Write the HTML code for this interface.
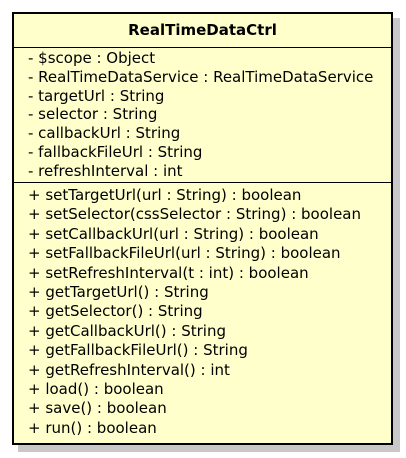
<!DOCTYPE html>
<html><head><style>
body{margin:0;width:406px;height:458px;background:#fff;position:relative;overflow:hidden;font-family:"DejaVu Sans","Liberation Sans",sans-serif;}
.sh{position:absolute;left:18px;top:18px;width:382px;height:434px;background:#c8c8c8;}
.box{position:absolute;left:12px;top:12px;width:377px;height:429px;background:#ffffcc;border:2.5px solid #000;}
.t{position:absolute;left:0;right:0;top:7px;text-align:center;font-weight:bold;font-size:15px;}
.sep{position:absolute;left:0;right:0;height:1px;background:#000;}
.l{position:absolute;left:14px;font-size:15px;white-space:nowrap;line-height:18.8px;}
</style></head><body>
<div class="sh"></div>
<div class="box">
<div class="t">RealTimeDataCtrl</div>
<div class="sep" style="top:33px"></div>
<div class="l" style="top:35px">- $scope : Object<br>- RealTimeDataService : RealTimeDataService<br>- targetUrl : String<br>- selector : String<br>- callbackUrl : String<br>- fallbackFileUrl : String<br>- refreshInterval : int</div>
<div class="sep" style="top:168px"></div>
<div class="l" style="top:172px;line-height:19.4px">+ setTargetUrl(url : String) : boolean<br>+ setSelector(cssSelector : String) : boolean<br>+ setCallbackUrl(url : String) : boolean<br>+ setFallbackFileUrl(url : String) : boolean<br>+ setRefreshInterval(t : int) : boolean<br>+ getTargetUrl() : String<br>+ getSelector() : String<br>+ getCallbackUrl() : String<br>+ getFallbackFileUrl() : String<br>+ getRefreshInterval() : int<br>+ load() : boolean<br>+ save() : boolean<br>+ run() : boolean</div>
</div>
</body></html>
